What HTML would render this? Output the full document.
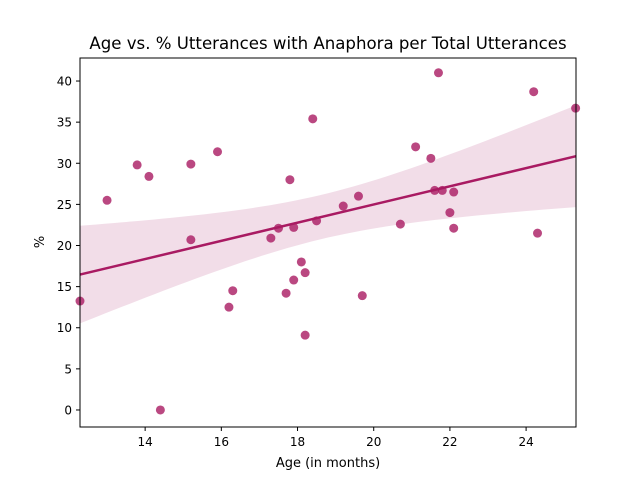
<!DOCTYPE html>
<html><head><meta charset="utf-8"><style>
body{margin:0;background:#fff;font-family:"Liberation Sans","DejaVu Sans",sans-serif}
svg text{font-family:"DejaVu Sans","Liberation Sans",sans-serif;fill:#000}
</style></head><body>
<svg id="chart" width="640" height="480">
<rect width="640" height="480" fill="#fff"/>
<text x="328" y="49" font-size="16.6" text-anchor="middle">Age vs. % Utterances with Anaphora per Total Utterances</text>
<g id="band"></g><g id="pts"></g><g id="line"></g>
<rect x="80" y="58" width="496" height="369" fill="none" stroke="#000" stroke-width="1"/>
<g id="xt"></g><g id="yt"></g>
<text x="328" y="467" font-size="13" text-anchor="middle">Age (in months)</text>
<text transform="translate(44,242) rotate(-90)" font-size="13" text-anchor="middle">%</text>
</svg>
<script>
const ages=[12.29,13.0,13.79,14.1,14.4,15.2,15.2,15.9,16.2,16.3,17.3,17.5,17.7,17.8,17.9,17.9,18.1,18.2,18.2,18.4,18.5,19.2,19.6,19.7,20.7,21.1,21.5,21.6,21.7,21.8,22.0,22.1,22.1,24.2,24.3,25.3];
const pcts=[13.25,25.5,29.8,28.4,0,29.9,20.7,31.4,12.5,14.5,20.9,22.1,14.2,28.0,22.2,15.8,18.0,16.7,9.1,35.4,23.0,24.8,26.0,13.9,22.6,32.0,30.6,26.7,41.0,26.7,24.0,26.5,22.1,38.7,21.5,36.7];
const xTicks=[14,16,18,20,22,24];
const yTicks=[0,5,10,15,20,25,30,35,40];
const X0=12.29,X1=25.31,Y0=-2.07,Y1=42.8;
const sx=v=>80+(v-X0)/(X1-X0)*496, sy=v=>427-(v-Y0)/(Y1-Y0)*369;
const NS="http://www.w3.org/2000/svg";
function mk(t,a,p){const e=document.createElementNS(NS,t);for(const k in a)e.setAttribute(k,a[k]);p.appendChild(e);return e;}
const n=ages.length;
const mx=ages.reduce((a,b)=>a+b)/n,my=pcts.reduce((a,b)=>a+b)/n;
let sxx=0,sxy=0;for(let i=0;i<n;i++){sxx+=(ages[i]-mx)**2;sxy+=(ages[i]-mx)*(pcts[i]-my);}
const b=sxy/sxx,a=my-b*mx;
let sse=0;for(let i=0;i<n;i++)sse+=(pcts[i]-a-b*ages[i])**2;
const s=Math.sqrt(sse/(n-2)),t=2.03;
let up=[],lo=[];
for(let k=0;k<=60;k++){const x=X0+(X1-X0)*k/60,yh=a+b*x,se=s*Math.sqrt(1/n+(x-mx)**2/sxx);
up.push(sx(x)+","+sy(yh+t*se));lo.unshift(sx(x)+","+sy(yh-t*se));}
const band=mk("polygon",{points:up.concat(lo).join(" "),fill:"#a91a62","fill-opacity":"0.15"},document.getElementById("band"));


const ln=mk("line",{x1:sx(X0),y1:sy(a+b*X0),x2:sx(X1),y2:sy(a+b*X1),stroke:"#a91a62","stroke-width":2.5},document.getElementById("line"));


const pg=document.getElementById("pts");
for(let i=0;i<n;i++){const c=mk("circle",{cx:sx(ages[i]),cy:sy(pcts[i]),r:4.5,fill:"#a91a62","fill-opacity":"0.8"},pg);

}
const xg=document.getElementById("xt");
xTicks.forEach(v=>{const x=sx(v);mk("line",{x1:x,x2:x,y1:427,y2:431,stroke:"#000"},xg);
const tx=mk("text",{x:x,y:446,"font-size":12,"text-anchor":"middle"},xg);tx.textContent=v;

});
const yg=document.getElementById("yt");
yTicks.forEach(v=>{const y=sy(v);mk("line",{x1:76,x2:80,y1:y,y2:y,stroke:"#000"},yg);
const tx=mk("text",{x:72,y:y+4.5,"font-size":12,"text-anchor":"end"},yg);tx.textContent=v;

});
</script>
</body></html>
